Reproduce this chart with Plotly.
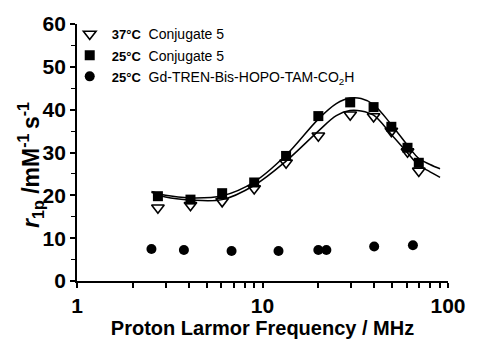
import plotly.graph_objects as go

# Data
tri_x = [2.73, 4.09, 6.06, 9.02, 13.4, 20.0, 29.7, 39.7, 49.5, 60.5, 69.6]
tri_y = [17.1, 17.7, 18.6, 21.6, 27.6, 33.9, 38.8, 38.4, 35.0, 30.2, 25.7]

sq_x = [2.73, 4.09, 6.06, 9.02, 13.4, 20.0, 29.7, 39.7, 49.5, 60.5, 69.6]
sq_y = [19.8, 19.0, 20.5, 23.0, 29.2, 38.5, 41.7, 40.6, 36.0, 31.1, 27.6]

circ_x = [2.52, 3.77, 6.81, 12.2, 20.0, 22.1, 40.0, 64.7]
circ_y = [7.46, 7.24, 7.0, 7.0, 7.24, 7.24, 8.05, 8.35]

# fitted curves
fit25_x = [2.52, 3.0, 4.1, 6.06, 9.0, 13.4, 20.0, 25.0, 29.6, 34.0, 39.7, 49.5, 60.5, 69.6, 80.0, 90.6]
fit25_y = [20.9, 20.0, 19.4, 19.9, 23.1, 29.4, 37.8, 41.4, 42.7, 42.6, 41.2, 36.5, 31.7, 28.6, 27.2, 26.2]
fit37_x = [2.52, 3.0, 4.1, 6.06, 9.0, 13.4, 20.0, 25.0, 29.6, 34.0, 39.7, 49.5, 60.5, 69.6, 80.0, 90.6]
fit37_y = [20.7, 19.6, 18.9, 19.0, 22.3, 28.0, 35.0, 38.6, 39.8, 39.7, 38.7, 34.2, 29.9, 27.0, 25.5, 24.2]

x_tickvals = [1, 2, 3, 4, 5, 6, 7, 8, 9, 10, 20, 30, 40, 50, 60, 70, 80, 90, 100]
x_ticktext = ["1", "", "", "", "", "", "", "", "", "10", "", "", "", "", "", "", "", "", "100"]
y_tickvals = [0, 10, 20, 30, 40, 50, 60]

fig = go.Figure()
fig.add_trace(go.Scatter(x=fit25_x, y=fit25_y, mode="lines", line=dict(color="black", width=1.5, shape="spline"), showlegend=False))
fig.add_trace(go.Scatter(x=fit37_x, y=fit37_y, mode="lines", line=dict(color="black", width=1.5, shape="spline"), showlegend=False))

small = "<span style='font-size:13px'><b>%s</b></span>"
fig.add_trace(go.Scatter(x=tri_x, y=tri_y, mode="markers",
                         name=(small % "37°C") + "  Conjugate 5",
                         marker=dict(symbol="triangle-down-open", size=11, color="black", line=dict(width=1.6, color="black"))))
fig.add_trace(go.Scatter(x=sq_x, y=sq_y, mode="markers",
                         name=(small % "25°C") + "  Conjugate 5",
                         marker=dict(symbol="square", size=10, color="black")))
fig.add_trace(go.Scatter(x=circ_x, y=circ_y, mode="markers",
                         name=(small % "25°C") + "  Gd-TREN-Bis-HOPO-TAM-CO<sub>2</sub>H",
                         marker=dict(symbol="circle", size=10, color="black")))

fig.update_layout(
    width=478, height=345,
    margin=dict(l=77, r=20, t=18, b=58),
    plot_bgcolor="white", paper_bgcolor="white",
    font=dict(family="Liberation Sans", color="black"),
    showlegend=True,
    legend=dict(x=-0.025, y=1.022, xanchor="left", yanchor="top",
                bgcolor="rgba(0,0,0,0)", font=dict(size=14, family="Liberation Sans"),
                tracegroupgap=0, itemsizing="trace", itemwidth=34),
    xaxis=dict(type="log", range=[0, 2], tickvals=x_tickvals,
               ticktext=["<b>%s</b>" % t if t else "" for t in x_ticktext],
               ticks="outside", ticklen=5, tickwidth=1.5, tickcolor="black",
               showline=True, linecolor="black", linewidth=1.8, showgrid=False, zeroline=False,
               tickfont=dict(family="Liberation Sans", size=21, color="black"),
               title=dict(text="<b>Proton Larmor Frequency / MHz</b>",
                          font=dict(family="Liberation Sans", size=20), standoff=2)),
    yaxis=dict(range=[0, 60], tickvals=y_tickvals, ticktext=["<b>%d</b>" % v for v in y_tickvals],
               ticks="outside", ticklen=5, tickwidth=1.5, tickcolor="black",
               minor=dict(ticks="outside", ticklen=4, tickwidth=1.2, tickcolor="black", dtick=5),
               showline=True, linecolor="black", linewidth=1.8, showgrid=False, zeroline=False,
               tickfont=dict(family="Liberation Sans", size=21, color="black")),
    xaxis2=dict(type="log", range=[0, 2], overlaying="x", side="top", anchor="y",
                tickvals=x_tickvals, ticktext=["" for _ in x_tickvals],
                ticks="inside", ticklen=4, tickwidth=1.5, tickcolor="black",
                showline=True, linecolor="black", linewidth=1.8, showgrid=False, zeroline=False),
    yaxis2=dict(range=[0, 60], overlaying="y", side="right", anchor="x",
                tickvals=y_tickvals, ticktext=["" for _ in y_tickvals],
                ticks="inside", ticklen=4, tickwidth=1.5, tickcolor="black",
                minor=dict(ticks="inside", ticklen=4, tickwidth=1.2, tickcolor="black", dtick=5),
                showline=True, linecolor="black", linewidth=1.8, showgrid=False, zeroline=False),
)
fig.add_annotation(text="<b><i>r</i><sub>1p</sub> /mM<sup>-1 </sup>s<sup>-1</sup></b>",
                   xref="paper", yref="paper", x=-0.125, y=0.45, xanchor="center", yanchor="middle",
                   textangle=-90, showarrow=False,
                   font=dict(family="Liberation Sans", size=23, color="black"))

fig.write_html("out.html")
